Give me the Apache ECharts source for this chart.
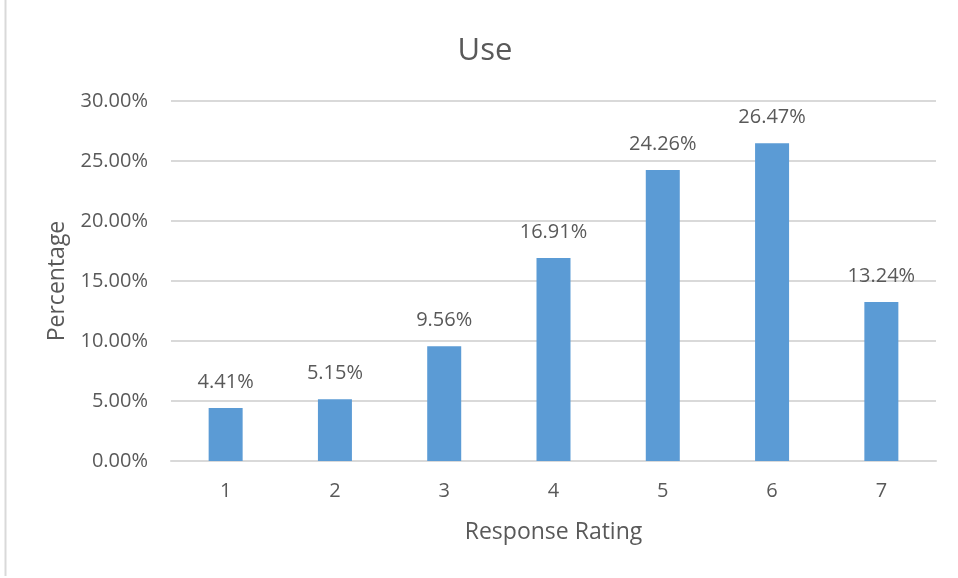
<!DOCTYPE html>
<html>
<head>
<meta charset="utf-8">
<script src="https://cdn.jsdelivr.net/npm/echarts@6/dist/echarts.min.js"></script>
<style>
  html, body { margin: 0; padding: 0; background: #fff; }
  #chart { width: 958px; height: 578px; }
</style>
</head>
<body>
<div id="chart"></div>
<script>
const categories = ["1", "2", "3", "4", "5", "6", "7"];
const percentValues = [4.41, 5.15, 9.56, 16.91, 24.26, 26.47, 13.24];

const textColor = "#595959";
const chart = echarts.init(document.getElementById("chart"));
chart.setOption({
  animation: false,
  textStyle: { fontFamily: "Open Sans, DejaVu Sans, sans-serif" },
  title: {
    text: "Use",
    left: 480,
    top: 31,
    textAlign: "center",
    textStyle: { fontSize: 31, fontWeight: "normal", color: textColor }
  },
  graphic: [{
    type: "line",
    shape: { x1: 5.5, y1: 0, x2: 5.5, y2: 576 },
    style: { stroke: "#d9d9d9", lineWidth: 2 }
  }],
  grid: { left: 171, right: 22, top: 101, bottom: 117 },
  xAxis: {
    type: "category",
    data: categories,
    name: "Response Rating",
    nameLocation: "middle",
    nameGap: 60,
    nameTextStyle: { fontSize: 23, color: textColor },
    axisLine: { lineStyle: { color: "#d9d9d9", width: 2 } },
    axisTick: { show: false },
    axisLabel: { fontSize: 20, color: textColor, margin: 20 }
  },
  yAxis: {
    type: "value",
    min: 0,
    max: 30,
    interval: 5,
    name: "Percentage",
    nameLocation: "middle",
    nameGap: 102,
    nameTextStyle: { fontSize: 23, color: textColor },
    axisLine: { show: false },
    axisTick: { show: false },
    splitLine: { lineStyle: { color: "#d9d9d9", width: 2 } },
    axisLabel: {
      fontSize: 20,
      color: textColor,
      margin: 23,
      formatter: v => v.toFixed(2) + "%"
    }
  },
  series: [{
    type: "bar",
    data: percentValues,
    barWidth: 34,
    itemStyle: { color: "#5b9bd5" },
    label: {
      show: true,
      position: "top",
      distance: 16,
      fontSize: 20,
      color: textColor,
      formatter: p => p.value.toFixed(2) + "%"
    }
  }]
});
</script>
</body>
</html>
